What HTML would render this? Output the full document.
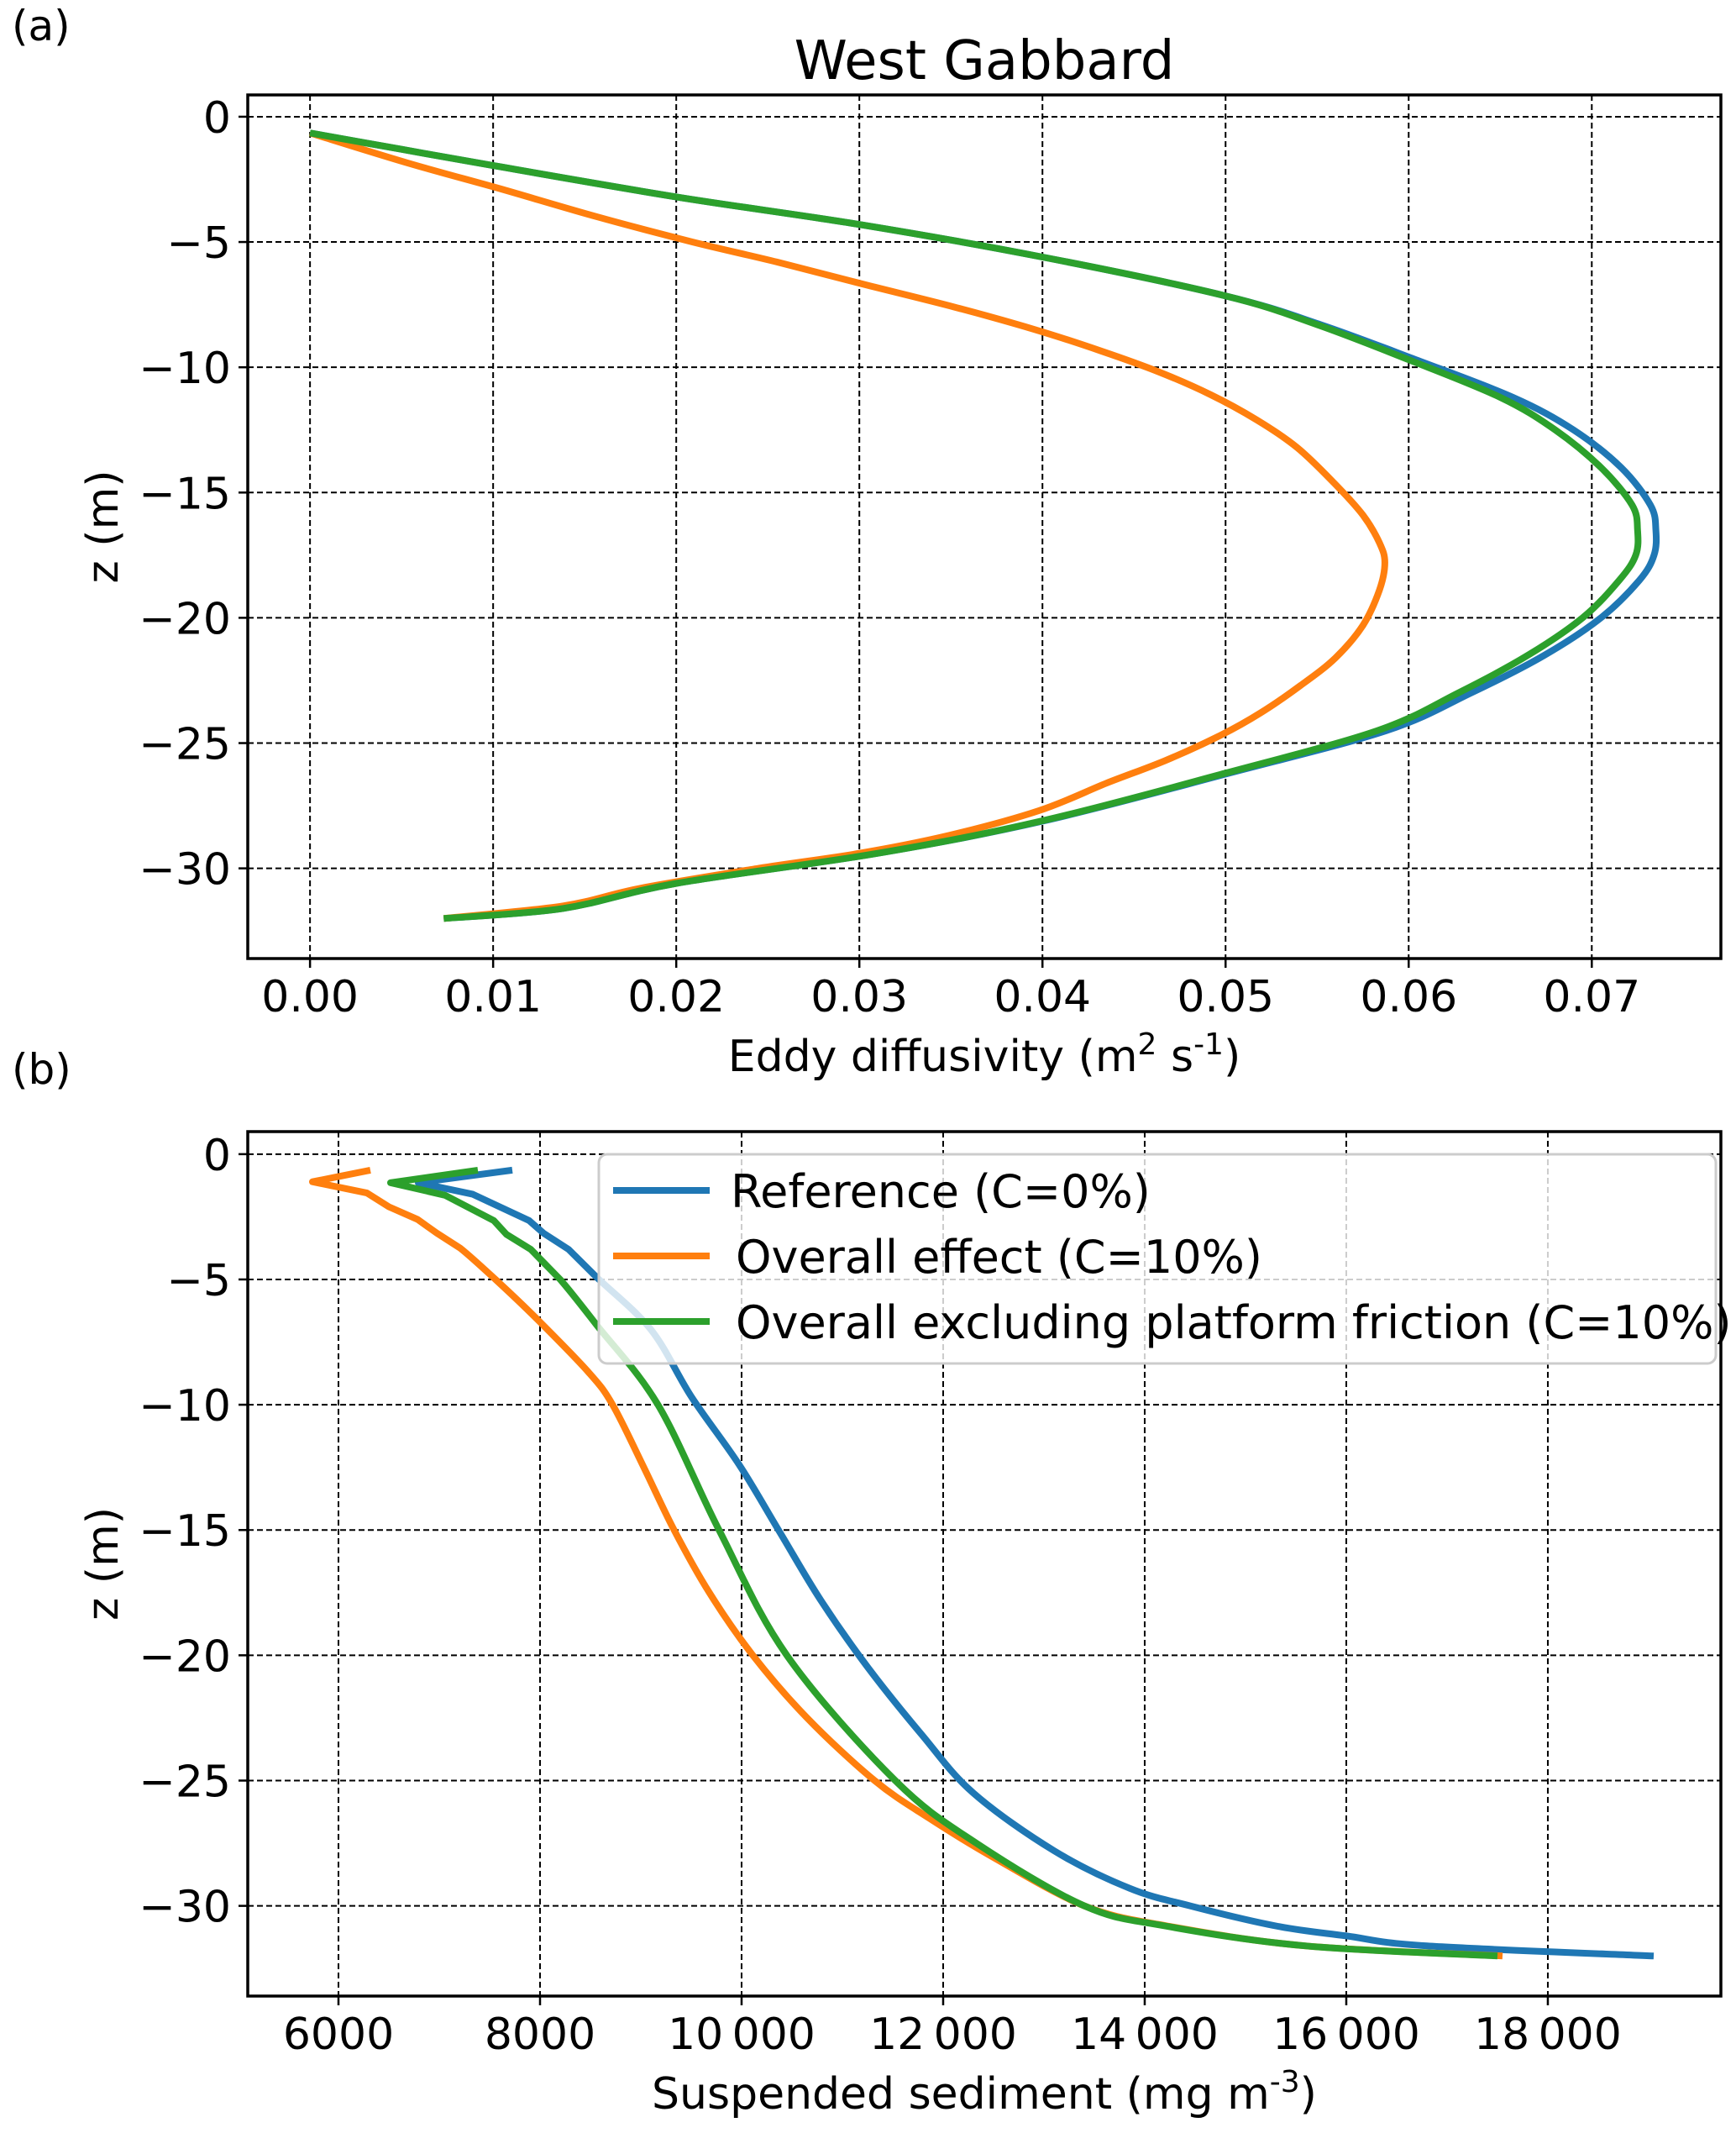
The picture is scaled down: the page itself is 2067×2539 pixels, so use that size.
<!DOCTYPE html>
<html><head><meta charset="utf-8"><style>
html,body{margin:0;padding:0;background:#fff}
svg{display:block;font-family:"DejaVu Sans","Liberation Sans",sans-serif}
</style></head><body>
<svg id="fig" width="2067" height="2539" viewBox="0 0 2067 2539" xmlns="http://www.w3.org/2000/svg">
<rect width="2067" height="2539" fill="#fff"/>
<text x="14" y="48" font-size="50">(a)</text>
<text x="14" y="1290" font-size="50">(b)</text>
<text x="1172" y="94" font-size="64" text-anchor="middle">West Gabbard</text>
<g id="pa"></g>
<g id="pb"></g>
</svg>
<script>
// Panel (a) data: eddy diffusivity vs z
const aXTicks = [0,0.01,0.02,0.03,0.04,0.05,0.06,0.07];
const aXTickLabels = ["0.00","0.01","0.02","0.03","0.04","0.05","0.06","0.07"];
const yTicks = [0,-5,-10,-15,-20,-25,-30];
const yTickLabels = ["0","\u22125","\u221210","\u221215","\u221220","\u221225","\u221230"];
const aGreenX = [0,0.005,0.01,0.02,0.03,0.04,0.05,0.055,0.06,0.065,0.068,0.0705,0.0722,0.0725,0.0724,0.0715,0.0695,0.0665,0.0627,0.0583,0.05,0.04,0.031,0.02,0.0138,0.0073];
const aGreenZ = [-0.65,-1.3,-1.95,-3.2,-4.3,-5.6,-7.15,-8.3,-9.7,-11.2,-12.5,-14.0,-15.5,-16.5,-17.5,-18.5,-20.0,-21.5,-23.0,-24.5,-26.2,-28.1,-29.4,-30.6,-31.6,-32.0];
const aBlueX = [0,0.005,0.01,0.02,0.03,0.04,0.05,0.0552,0.0604,0.0657,0.0690,0.0716,0.0732,0.0735,0.0734,0.0726,0.0705,0.0674,0.0634,0.0588,0.0502,0.0401,0.031,0.02,0.0138,0.0073];
const aBlueZ = aGreenZ.slice();
const aOrangeX = [0,0.0053,0.0105,0.0157,0.0209,0.0255,0.0303,0.0352,0.0396,0.0432,0.0464,0.0492,0.0517,0.0539,0.0559,0.0575,0.0584,0.0587,0.0584,0.0575,0.056,0.0541,0.0519,0.0497,0.0467,0.0435,0.0398,0.0348,0.0300,0.0245,0.018,0.0138,0.0073];
const aOrangeZ = [-0.65,-1.84,-2.9,-4.0,-5.0,-5.8,-6.7,-7.6,-8.5,-9.35,-10.2,-11.1,-12.1,-13.2,-14.6,-15.9,-17.0,-17.8,-18.9,-20.3,-21.6,-22.7,-23.8,-24.7,-25.7,-26.6,-27.7,-28.7,-29.4,-30.0,-30.8,-31.5,-32.0];
// Panel (b) data: suspended sediment vs z
const bXTicks = [6000,8000,10000,12000,14000,16000,18000];
const bXTickLabels = ["6000","8000","10\u2009000","12\u2009000","14\u2009000","16\u2009000","18\u2009000"];
const bBlueX = [7725,6792,7333,7892,8033,8283,8558,9100,9505,9977,10381,10785,11256,11794,12300,13100,13850,14450,15300,16000,16800,19050];
const bBlueZ = [-0.64,-1.14,-1.6,-2.65,-3.15,-3.8,-4.9,-7.0,-9.7,-12.4,-15.1,-17.8,-20.5,-23.2,-25.5,-27.8,-29.3,-30.0,-30.8,-31.2,-31.6,-32.0];
const bOrangeX = [6317,5742,6283,6500,6783,6975,7208,7558,7975,8480,8720,9030,9330,9680,10112,10650,11320,11860,12470,13400,14220,15600,17550];
const bOrangeZ = [-0.64,-1.1,-1.55,-2.1,-2.6,-3.15,-3.75,-5.0,-6.6,-8.7,-10,-12.5,-15,-17.5,-20,-22.5,-25,-26.5,-28,-30,-30.8,-31.6,-32.0];
const bGreenX = [7383,6517,7058,7542,7667,7908,8200,8558,9170,9776,10449,11525,12330,13400,14200,15600,17500];
const bGreenZ = [-0.64,-1.14,-1.64,-2.65,-3.2,-3.8,-5.0,-6.8,-10,-15,-20,-25,-27.5,-30,-30.8,-31.6,-32.0];
const legendLabels = ["Reference (C=0%)","Overall effect (C=10%)","Overall excluding platform friction (C=10%)"];

const NS="http://www.w3.org/2000/svg";
const COL={blue:"#1f77b4",orange:"#ff7f0e",green:"#2ca02c"};
function mk(tag,attrs,parent){const e=document.createElementNS(NS,tag);for(const k in attrs)e.setAttribute(k,attrs[k]);parent.appendChild(e);return e;}
function spline(P,smooth){
  let d="M"+P[0][0].toFixed(1)+","+P[0][1].toFixed(1);
  for(let i=0;i<P.length-1;i++){
    const p0=P[Math.max(0,i-1)],p1=P[i],p2=P[i+1],p3=P[Math.min(P.length-1,i+2)];
    if(!smooth[i]){d+=" L"+p2[0].toFixed(1)+","+p2[1].toFixed(1);continue;}
    const c1=[p1[0]+(p2[0]-p0[0])/6,p1[1]+(p2[1]-p0[1])/6];
    const c2=[p2[0]-(p3[0]-p1[0])/6,p2[1]-(p3[1]-p1[1])/6];
    d+=` C${c1[0].toFixed(1)},${c1[1].toFixed(1)} ${c2[0].toFixed(1)},${c2[1].toFixed(1)} ${p2[0].toFixed(1)},${p2[1].toFixed(1)}`;
  }
  return d;
}

function panel(g,box,xlim,ylim,xt,xtl,xlabelParts,series,legend,sharpN){
  const sx=v=>box.l+(v-xlim[0])/(xlim[1]-xlim[0])*(box.r-box.l);
  const sy=v=>box.t+(ylim[1]-v)/(ylim[1]-ylim[0])*(box.b-box.t);
  xt.forEach((v,i)=>{
    const x=sx(v);
    const gl=mk("line",{x1:x,x2:x,y1:box.t,y2:box.b,stroke:"#000","stroke-width":2,"stroke-dasharray":"7,4"},g);
    
    
    const tk=mk("line",{x1:x,x2:x,y1:box.b,y2:box.b+11,stroke:"#000","stroke-width":2.5},g);
    
    
    const tl=mk("text",{x:x,y:box.b+63,"font-size":52,"text-anchor":"middle"},g);
    tl.textContent=xtl[i];
    
    
  });
  yTicks.forEach((v,i)=>{
    const y=sy(v);
    const gl=mk("line",{x1:box.l,x2:box.r,y1:y,y2:y,stroke:"#000","stroke-width":2,"stroke-dasharray":"7,4"},g);
    
    
    const tk=mk("line",{x1:box.l-11,x2:box.l,y1:y,y2:y,stroke:"#000","stroke-width":2.5},g);
    
    
    const tl=mk("text",{x:box.l-20,y:y+19,"font-size":52,"text-anchor":"end"},g);
    tl.textContent=yTickLabels[i];
    
    
  });
  series.forEach(s=>{
    const P=s.x.map((v,i)=>[sx(v),sy(s.z[i])]);
    const sm=P.map((_,i)=>i>=sharpN);
    const p=mk("path",{d:spline(P,sm),fill:"none",stroke:s.c,"stroke-width":8,"stroke-linejoin":"round"},g);
    
    
  });
  const fr=mk("rect",{x:box.l,y:box.t,width:box.r-box.l,height:box.b-box.t,fill:"none",stroke:"#000","stroke-width":3.5},g);
  
  
  const yl=mk("text",{x:0,y:0,"font-size":52,"text-anchor":"middle",transform:`translate(140,${(box.t+box.b)/2}) rotate(-90)`},g);
  yl.textContent="z (m)";
  
  
  const xl=mk("text",{x:(box.l+box.r)/2,y:box.b+134,"font-size":52,"text-anchor":"middle"},g);
  
  
  xlabelParts.forEach(pt=>{const ts=mk("tspan",pt.sup?{"baseline-shift":"super","font-size":36}:{},xl);ts.textContent=pt.t;});
  if(legend){
    const lg=mk("g",{},g);
    
    
    mk("rect",{x:713,y:1374,width:1330,height:249,rx:10,fill:"#fff","fill-opacity":0.8,stroke:"#ccc","stroke-width":3},lg);
    series.forEach((s,i)=>{
      const y=1417+i*78;
      const h=mk("line",{x1:730,x2:845,y1:y,y2:y,stroke:s.c,"stroke-width":8},lg);
      
      
      const t=mk("text",{x:870+(i?6:0),y:y+20,"font-size":54},lg);
      t.textContent=legendLabels[i];
      
      
    });
  }
}
const ylim=[-33.6,0.87];
panel(document.getElementById("pa"),{l:295,r:2049,t:113,b:1141},[-0.0034,0.07705],ylim,aXTicks,aXTickLabels,
  [{t:"Eddy diffusivity (m"},{t:"2",sup:1},{t:" s"},{t:"-1",sup:1},{t:")"}],
  [{x:aBlueX,z:aBlueZ,c:COL.blue,name:"reference-line"},{x:aOrangeX,z:aOrangeZ,c:COL.orange,name:"overall-effect-line"},{x:aGreenX,z:aGreenZ,c:COL.green,name:"excluding-friction-line"}],false,0);
panel(document.getElementById("pb"),{l:295,r:2049,t:1347,b:2376},[5100,19717],[-33.6,0.9],bXTicks,bXTickLabels,
  [{t:"Suspended sediment (mg m"},{t:"-3",sup:1},{t:")"}],
  [{x:bBlueX,z:bBlueZ,c:COL.blue,name:"reference-line"},{x:bOrangeX,z:bOrangeZ,c:COL.orange,name:"overall-effect-line"},{x:bGreenX,z:bGreenZ,c:COL.green,name:"excluding-friction-line"}],true,6);
</script>
</body></html>
